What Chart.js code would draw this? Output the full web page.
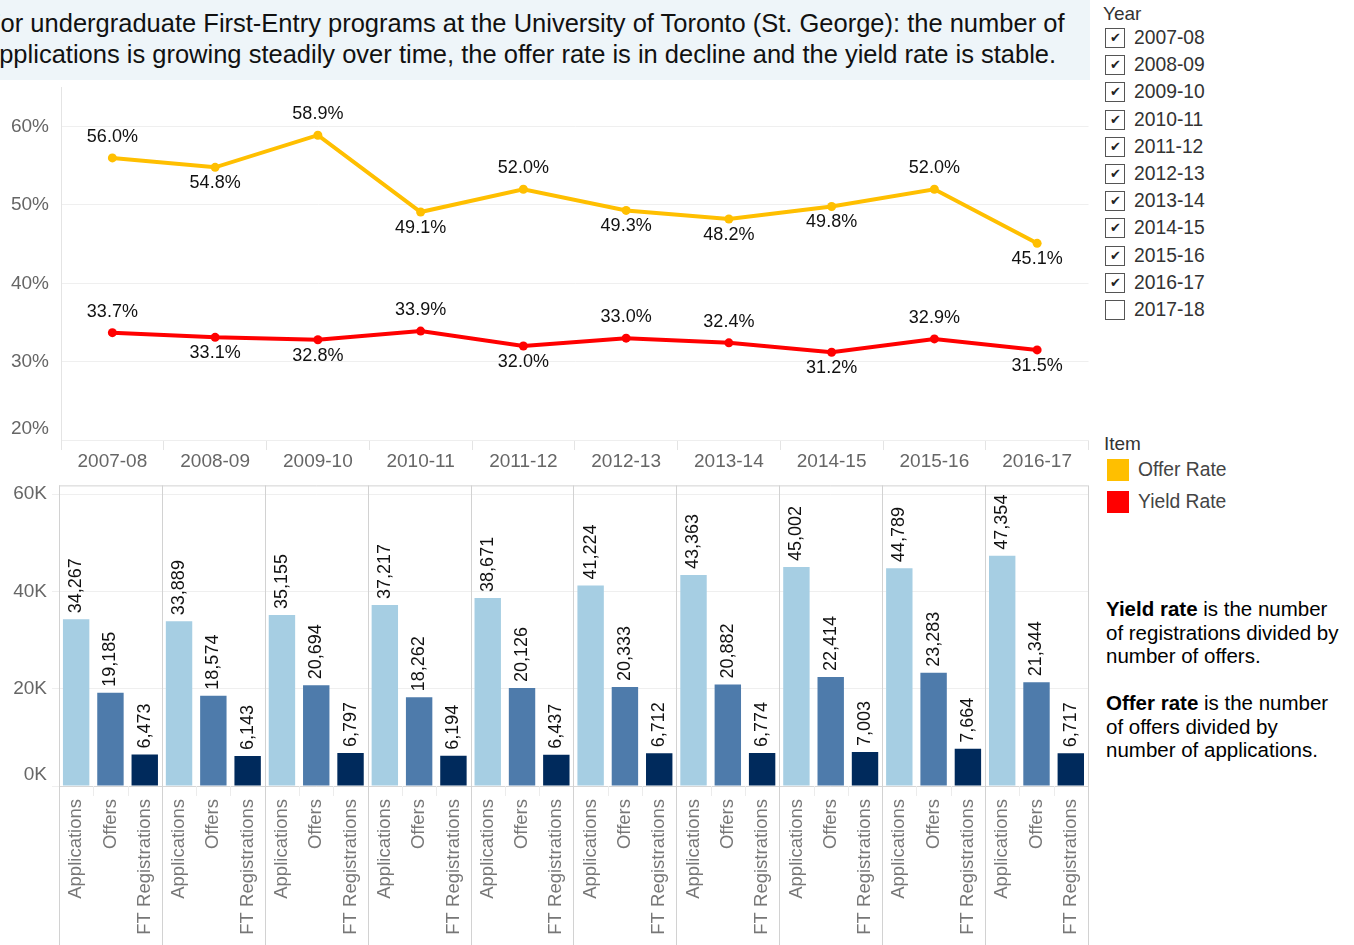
<!DOCTYPE html>
<html>
<head>
<meta charset="utf-8">
<script src="https://cdn.jsdelivr.net/npm/chart.js@4.4.0/dist/chart.umd.min.js"></script>
<style>
    body { margin: 0; width: 1354px; height: 945px; background: #fff; position: relative; overflow: hidden;
           font-family: Arial, "Liberation Sans", sans-serif; }
    #title { position: absolute; left: 0; top: 0; width: 1090px; height: 80px; background: #eef5f9; overflow: hidden; }
    #title div { position: absolute; left: -15px; font-size: 25.5px; line-height: 31px; color: #111; white-space: nowrap; }
    #lineWrap { position: absolute; left: 0; top: 64px; width: 1093px; height: 411px; }
    #barWrap { position: absolute; left: 0; top: 469px; width: 1098px; height: 476px; }
    .legendTitle { position: absolute; font-size: 19px; color: #333; line-height: 20px; }
    .yearRow { position: absolute; left: 1105px; height: 22px; font-size: 19.3px; color: #333; line-height: 22px; white-space: nowrap; }
    .box { position: absolute; left: 0; top: 0; width: 18px; height: 18px; border: 1.5px solid #555;
           background: #fff; font-size: 13px; line-height: 18px; text-align: center; color: #222; }
    .yearRow span { position: absolute; left: 29px; top: -1px; }
    .itemRow { position: absolute; left: 1107px; height: 22px; font-size: 19.3px; color: #444; line-height: 22px; }
    .swatch { position: absolute; left: 0; top: 0; width: 22px; height: 22px; }
    .itemRow span { position: absolute; left: 31px; top: 0; white-space: nowrap; }
    .note { position: absolute; left: 1106px; width: 240px; font-size: 20.5px; line-height: 23.5px; color: #000; }
</style>
</head>
<body>
<div id="title">
    <div style="top:8px">For undergraduate First-Entry programs at the University of Toronto (St. George): the number of</div>
    <div style="top:39px">applications is growing steadily over time, the offer rate is in decline and the yield rate is stable.</div>
</div>
<div id="lineWrap"><canvas id="rateChart"></canvas></div>
<div id="barWrap"><canvas id="countChart"></canvas></div>
<div id="legends"></div>
<div class="note" style="top:597px"><b>Yield rate</b> is the number of registrations divided by number of offers.</div>
<div class="note" style="top:691px"><b>Offer rate</b> is the number of offers divided by number of applications.</div>

<script>
// ### DATA ###
const years = ['2007-08', '2008-09', '2009-10', '2010-11', '2011-12', '2012-13', '2013-14', '2014-15', '2015-16', '2016-17'];
const filterYears = years.concat(['2017-18']);
const offerRate = [56.0, 54.8, 58.9, 49.1, 52.0, 49.3, 48.2, 49.8, 52.0, 45.1];
const yieldRate = [33.7, 33.1, 32.8, 33.9, 32.0, 33.0, 32.4, 31.2, 32.9, 31.5];
const rateTicks = [20, 30, 40, 50, 60];

const items = ['Applications', 'Offers', 'FT Registrations'];
const applications = [34267, 33889, 35155, 37217, 38671, 41224, 43363, 45002, 44789, 47354];
const offers = [19185, 18574, 20694, 18262, 20126, 20333, 20882, 22414, 23283, 21344];
const registrations = [6473, 6143, 6797, 6194, 6437, 6712, 6774, 7003, 7664, 6717];
const countTicks = [0, 20000, 40000, 60000];

// label placement for the rate lines (above / below the point)
const offerLabelSide = ['up', 'down', 'up', 'down', 'up', 'down', 'down', 'down', 'up', 'down'];
const yieldLabelSide = ['up', 'down', 'down', 'up', 'down', 'up', 'up', 'down', 'up', 'down'];

const OFFER_COLOR = '#ffbf00';
const YIELD_COLOR = '#ff0000';
const itemColors = ['#a6cee3', '#4e7bab', '#002a5c'];
const FONT = 'Arial, "Liberation Sans", sans-serif';

// ### LEGENDS ###
(function buildLegends() {
    const host = document.getElementById('legends');
    let html = '<div class="legendTitle" style="left:1103px;top:4px">Year</div>';
    filterYears.forEach((y, i) => {
        const checked = years.indexOf(y) >= 0;
        const top = 28 + i * 27.2;
        html += `<div class="yearRow" style="top:${top}px"><div class="box">${checked ? '&#10004;' : ''}</div><span>${y}</span></div>`;
    });
    html += '<div class="legendTitle" style="left:1104px;top:434px">Item</div>';
    html += `<div class="itemRow" style="top:459px"><div class="swatch" style="background:${OFFER_COLOR}"></div><span>Offer Rate</span></div>`;
    html += `<div class="itemRow" style="top:491px"><div class="swatch" style="background:${YIELD_COLOR}"></div><span>Yield Rate</span></div>`;
    host.innerHTML = html;
})();

// bottom tick label sits a little above its gridline (two-line label trick)
const liftBottom = (text, isBottom) => isBottom ? [text, ''] : text;

// ### RATE LINE LABELS ###
const rateLabels = {
    id: 'rateLabels',
    afterDatasetsDraw(chart) {
        const ctx = chart.ctx;
        ctx.save();
        ctx.font = '18px ' + FONT;
        ctx.fillStyle = '#111';
        ctx.textAlign = 'center';
        ctx.textBaseline = 'middle';
        chart.data.datasets.forEach((ds, di) => {
            const meta = chart.getDatasetMeta(di);
            meta.data.forEach((pt, i) => {
                const up = ds.labelSide[i] === 'up';
                ctx.fillText(ds.data[i].toFixed(1) + '%', pt.x, pt.y + (up ? -21 : 16));
            });
        });
        ctx.restore();
    }
};

new Chart(document.getElementById('rateChart'), {
    type: 'line',
    data: {
        labels: years,
        datasets: [
            { label: 'Offer Rate', data: offerRate, labelSide: offerLabelSide, borderColor: OFFER_COLOR,
              backgroundColor: OFFER_COLOR, borderWidth: 4, pointRadius: 4.5, pointBorderWidth: 0,
              pointHoverRadius: 4.5, tension: 0 },
            { label: 'Yield Rate', data: yieldRate, labelSide: yieldLabelSide, borderColor: YIELD_COLOR,
              backgroundColor: YIELD_COLOR, borderWidth: 4, pointRadius: 4.5, pointBorderWidth: 0,
              pointHoverRadius: 4.5, tension: 0 }
        ]
    },
    options: {
        responsive: true,
        maintainAspectRatio: false,
        animation: false,
        layout: { padding: { top: 0, right: 0 } },
        plugins: { legend: { display: false }, tooltip: { enabled: false } },
        scales: {
            x: {
                offset: true,
                grid: { offset: true, drawOnChartArea: false, color: '#e4e4e4', tickLength: 10 },
                border: { display: true, color: '#eeeeee' },
                ticks: { color: '#666', font: { size: 19, family: FONT }, padding: 0, maxRotation: 0 },
                afterFit: s => { s.height = 35; }
            },
            y: {
                min: 20,
                max: 65,
                afterBuildTicks: s => { s.ticks = rateTicks.map(v => ({ value: v })); },
                grid: { color: '#efefef', drawTicks: false },
                border: { display: true, color: '#e4e4e4' },
                ticks: { color: '#666', font: { size: 19, family: FONT }, padding: 12,
                         callback: v => liftBottom(v + '%', v === rateTicks[0]) },
                afterFit: s => { s.width = 61; }
            }
        }
    },
    plugins: [rateLabels]
});

// ### COUNT BARS ###
const barLabels = [];
const barValues = [];
const barColors = [];
years.forEach((y, i) => {
    [applications[i], offers[i], registrations[i]].forEach((v, k) => {
        barLabels.push(items[k]);
        barValues.push(v);
        barColors.push(itemColors[k]);
    });
});

// panel borders between years and short separators between items
const panelLines = {
    id: 'panelLines',
    beforeDatasetsDraw(chart) {
        const { ctx, chartArea, scales: { x } } = chart;
        const band = x.getPixelForValue(1) - x.getPixelForValue(0);
        ctx.save();
        ctx.lineWidth = 1;
        for (let i = 0; i <= barLabels.length; i++) {
            const px = Math.round(x.getPixelForValue(i) - band / 2) + 0.5;
            ctx.beginPath();
            if (i % 3 === 0) {
                ctx.strokeStyle = '#d2d2d2';
                ctx.moveTo(px, chartArea.top);
                ctx.lineTo(px, chart.height);
            } else {
                ctx.strokeStyle = '#ececec';
                ctx.moveTo(px, chartArea.bottom);
                ctx.lineTo(px, chartArea.bottom + 10);
            }
            ctx.stroke();
        }
        ctx.beginPath();
        ctx.strokeStyle = '#d2d2d2';
        ctx.moveTo(chartArea.left, chartArea.top + 0.5);
        ctx.lineTo(chartArea.right, chartArea.top + 0.5);
        ctx.stroke();
        ctx.restore();
    }
};

const barValueLabels = {
    id: 'barValueLabels',
    afterDatasetsDraw(chart) {
        const ctx = chart.ctx;
        const meta = chart.getDatasetMeta(0);
        ctx.save();
        ctx.font = '18px ' + FONT;
        ctx.fillStyle = '#111';
        ctx.textAlign = 'left';
        ctx.textBaseline = 'middle';
        meta.data.forEach((bar, i) => {
            ctx.save();
            ctx.translate(bar.x, bar.y - 6);
            ctx.rotate(-Math.PI / 2);
            ctx.fillText(barValues[i].toLocaleString('en-US'), 0, 0);
            ctx.restore();
        });
        ctx.restore();
    }
};

new Chart(document.getElementById('countChart'), {
    type: 'bar',
    data: {
        labels: barLabels,
        datasets: [{ data: barValues, backgroundColor: barColors, barPercentage: 0.77, categoryPercentage: 1 }]
    },
    options: {
        responsive: true,
        maintainAspectRatio: false,
        animation: false,
        layout: { padding: { top: 0, right: 0 } },
        plugins: { legend: { display: false }, tooltip: { enabled: false } },
        scales: {
            x: {
                grid: { display: false },
                border: { display: true, color: '#d6d6d6' },
                ticks: { color: '#777', font: { size: 18.5, family: FONT }, minRotation: 90, maxRotation: 90,
                         autoSkip: false, padding: 5 },
                afterFit: s => { s.height = 159; }
            },
            y: {
                min: 0,
                max: 61800,
                afterBuildTicks: s => { s.ticks = countTicks.map(v => ({ value: v })); },
                grid: { color: '#efefef', tickLength: 7 },
                border: { display: false },
                ticks: { color: '#666', font: { size: 19, family: FONT }, padding: 5,
                         callback: v => liftBottom((v / 1000) + 'K', v === countTicks[0]) },
                afterFit: s => { s.width = 59; }
            }
        }
    },
    plugins: [panelLines, barValueLabels]
});
</script>
</body>
</html>
